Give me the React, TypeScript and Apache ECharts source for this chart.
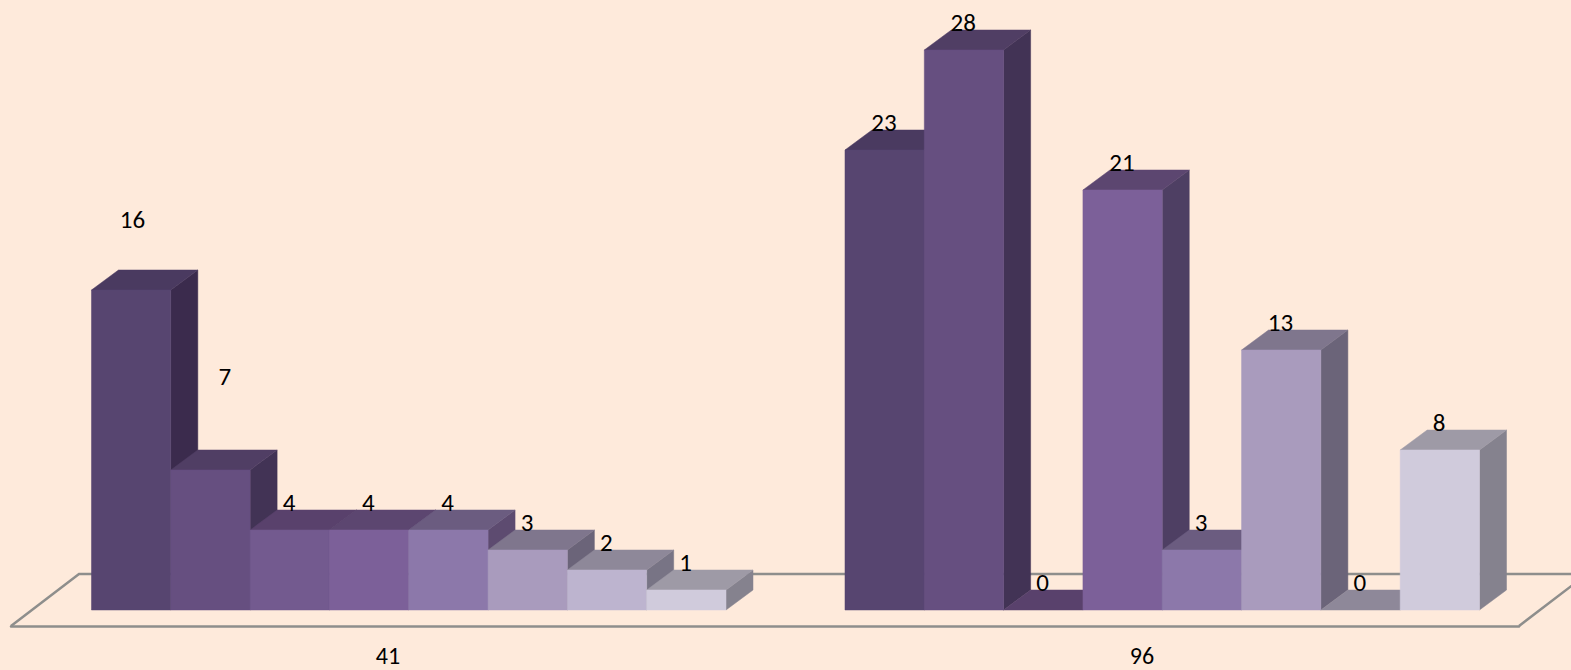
import React, { useEffect, useRef } from "react";
import * as echarts from "echarts";

const categories = ["41", "96"];
const values41 = [16, 7, 4, 4, 4, 3, 2, 1];
const values96 = [23, 28, 0, 21, 3, 13, 0, 8];

const frontColors = ["#574570", "#664f80", "#735a8f", "#7c6099", "#8c78aa", "#a99bbd", "#bdb4cf", "#d0cbdc"];
const topColors = ["#4a3a60", "#503e64", "#59416c", "#5c4670", "#6b5c80", "#7f768d", "#8e8899", "#9e9aa6"];
const sideColors = ["#3b2b4d", "#423355", "#4d3e62", "#4e3f63", "#5d4b70", "#6b6479", "#787485", "#85828e"];

const FONT = '25px Carlito, Lato, "Open Sans", sans-serif';
const DX = 27;
const DY = 20;

function labelShift(group: number, index: number): [number, number] {
  if (group === 0 && index === 0) return [2, -43];
  if (group === 0 && index === 1) return [15, -66];
  return [0, 0];
}

function barRenderer(index: number) {
  return (_params: any, api: any) => {
    const group = api.value(0);
    const value = api.value(1);
    const base = api.coord([group, 0]);
    const top = api.coord([group, value]);
    const bw = api.size([1, 0])[0] / 9.5;
    const x0 = base[0] + (index - 4) * bw;
    const x1 = x0 + bw;
    const yT = top[1];
    const yB = base[1];
    const children: any[] = [];
    const poly = (points: number[][], fill: string) => ({
      type: "polygon",
      shape: { points },
      style: { fill, stroke: fill, lineWidth: 0.5 },
    });
    if (value > 0) {
      children.push(poly([[x1, yT], [x1 + DX, yT - DY], [x1 + DX, yB - DY], [x1, yB]], sideColors[index]));
    }
    children.push(poly([[x0, yT], [x0 + DX, yT - DY], [x1 + DX, yT - DY], [x1, yT]], topColors[index]));
    if (value > 0) {
      children.push(poly([[x0, yT], [x1, yT], [x1, yB], [x0, yB]], frontColors[index]));
    }
    const [sx, sy] = labelShift(group, index);
    children.push({
      type: "text",
      z2: 50,
      style: {
        text: String(value),
        x: (x0 + x1) / 2 - 0.7 + sx,
        y: yT - 28 + sy,
        align: "center",
        verticalAlign: "middle",
        font: FONT,
        fill: "#000000",
      },
    });
    return { type: "group", children };
  };
}

function floorRenderer(params: any) {
  const c = params.coordSys;
  const depth = (c.height * 68) / 52;
  return {
    type: "polyline",
    shape: {
      points: [
        [c.x, c.y + c.height],
        [c.x + depth, c.y],
        [c.x + c.width + depth, c.y],
        [c.x + c.width, c.y + c.height],
      ],
    },
    style: { stroke: "#8e8e8c", lineWidth: 2.5, fill: "none" },
  };
}

export default function App() {
  const ref = useRef<HTMLDivElement>(null);
  useEffect(() => {
    document.body.style.margin = "0";
    document.body.style.background = "#feeadb";
    const chart = echarts.init(ref.current!, undefined, { renderer: "svg" });
    chart.setOption({
      animation: false,
      backgroundColor: "#feeadb",
      grid: [
        { left: 32, width: 1507, top: 10, height: 600 },
        { left: 11, width: 1508, top: 574, height: 52 },
      ],
      xAxis: [
        { gridIndex: 0, type: "category", data: categories, show: false },
        {
          gridIndex: 1,
          type: "category",
          data: categories,
          axisTick: { show: false },
          axisLine: { lineStyle: { color: "#8e8e8c", width: 2.5 } },
          axisLabel: { margin: 19, fontSize: 24, lineHeight: 20, fontFamily: "Carlito, Lato, sans-serif", color: "#000000" },
        },
      ],
      yAxis: [
        { gridIndex: 0, type: "value", min: 0, max: 30, show: false },
        { gridIndex: 1, type: "value", min: 0, max: 1, show: false },
      ],
      series: [
        {
          type: "custom",
          xAxisIndex: 1,
          yAxisIndex: 1,
          silent: true,
          z: 1,
          data: [[categories[0], 0]],
          encode: { x: 0, y: 1 },
          renderItem: floorRenderer,
        },
        ...values41.map((v, i) => ({
          type: "custom",
          xAxisIndex: 0,
          yAxisIndex: 0,
          silent: true,
          z: 2 + i,
          data: [
            [categories[0], v],
            [categories[1], values96[i]],
          ],
          encode: { x: 0, y: 1 },
          renderItem: barRenderer(i),
        })),
      ],
    });
    return () => chart.dispose();
  }, []);
  return <div ref={ref} style={{ width: 1571, height: 670 }} />;
}
